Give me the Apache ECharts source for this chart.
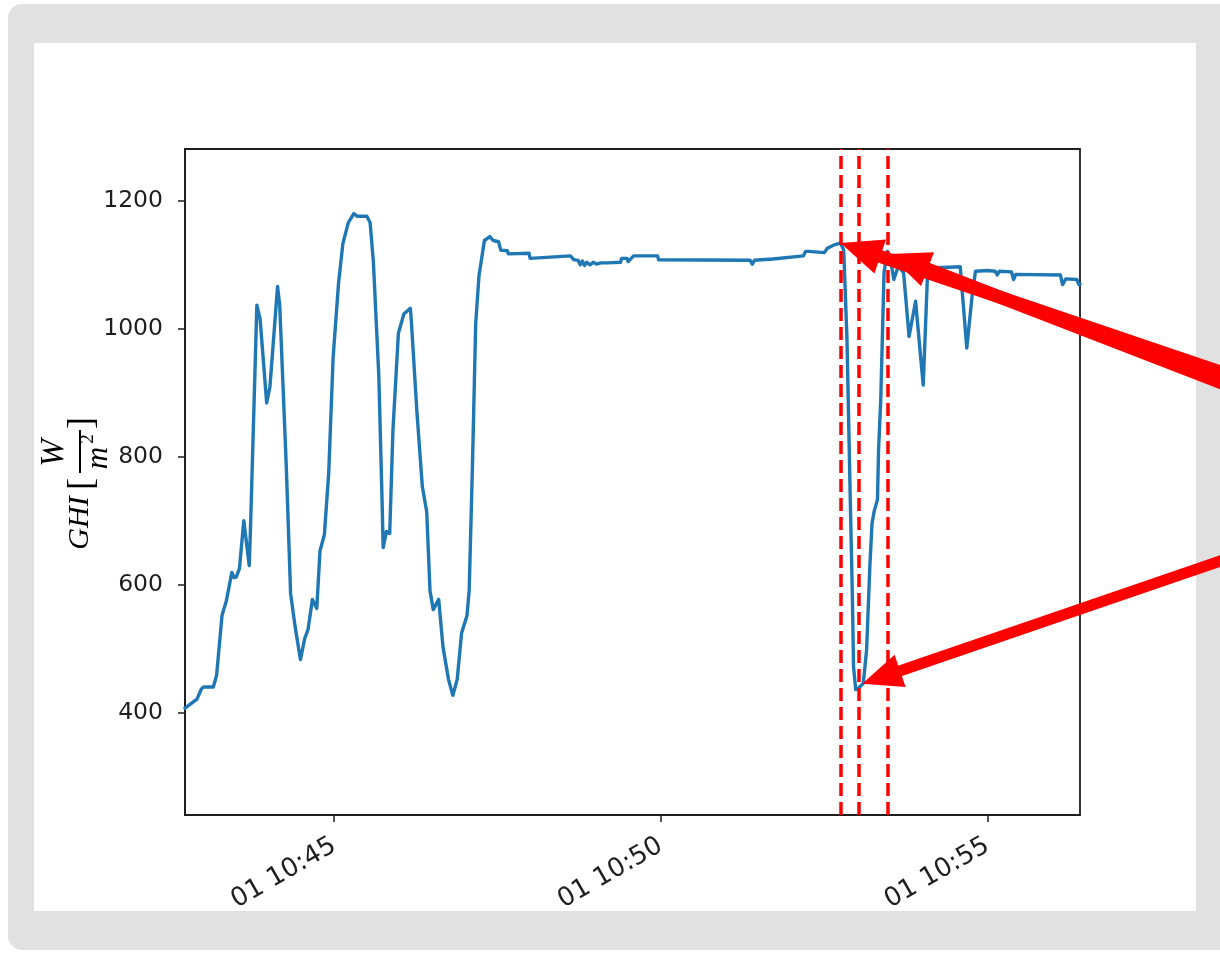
<!DOCTYPE html>
<html><head><meta charset="utf-8">
<script src="https://cdn.jsdelivr.net/npm/echarts@6.0.0/dist/echarts.min.js"></script>
<style>
html,body{margin:0;padding:0;background:#fff;width:1220px;height:957px;overflow:hidden;}
#frame{position:absolute;left:8px;top:4px;width:1240px;height:946px;background:#e0e1e0;border-radius:14px;}
#panel{position:absolute;left:34px;top:43px;width:1162px;height:868px;background:#fff;}
#chart{position:absolute;left:0;top:0;width:1220px;height:957px;}
</style></head><body>
<div id="frame"></div><div id="panel"></div><div id="chart"></div>
<script>
// ---- data ----
const times = [
 '10:42:43','10:42:54','10:42:58','10:43:00','10:43:09','10:43:12','10:43:17','10:43:21','10:43:26','10:43:28',
 '10:43:30','10:43:33','10:43:37','10:43:42','10:43:43','10:43:49','10:43:52','10:43:58','10:44:01','10:44:08',
 '10:44:10','10:44:16','10:44:20','10:44:24','10:44:29','10:44:33','10:44:36','10:44:40','10:44:44','10:44:47',
 '10:44:51','10:44:55','10:44:59','10:45:04','10:45:08','10:45:13','10:45:18','10:45:21','10:45:30','10:45:33',
 '10:45:36','10:45:41','10:45:44','10:45:45','10:45:48','10:45:51','10:45:54','10:45:59','10:46:04','10:46:10',
 '10:46:11','10:46:16','10:46:21','10:46:25','10:46:28','10:46:31','10:46:36','10:46:40','10:46:45','10:46:49',
 '10:46:53','10:46:57','10:47:02','10:47:04','10:47:07','10:47:10','10:47:13','10:47:18','10:47:23','10:47:26',
 '10:47:31','10:47:33','10:47:39','10:47:40','10:47:59','10:48:00','10:48:37','10:48:40','10:48:44','10:48:46',
 '10:48:48','10:48:50','10:48:52','10:48:55','10:48:58','10:49:01','10:49:05','10:49:11','10:49:23','10:49:24',
 '10:49:29','10:49:30','10:49:35','10:49:57','10:49:58','10:51:22','10:51:24','10:51:26','10:51:43','10:52:11',
 '10:52:13','10:52:16','10:52:17','10:52:30','10:52:33','10:52:39','10:52:45','10:52:48','10:52:51','10:52:54',
 '10:52:56','10:52:57','10:52:59','10:53:02','10:53:06','10:53:09','10:53:12','10:53:14','10:53:15','10:53:16',
 '10:53:19','10:53:20','10:53:22','10:53:25','10:53:28','10:53:31','10:53:34','10:53:38','10:53:40','10:53:43',
 '10:53:48','10:53:54','10:54:01','10:54:05','10:54:08','10:54:35','10:54:37','10:54:41','10:54:46','10:54:49',
 '10:55:00','10:55:07','10:55:09','10:55:11','10:55:22','10:55:24','10:55:26','10:56:07','10:56:09','10:56:12',
 '10:56:22','10:56:24','10:56:25'
];
const ghi = [
 407,421,437,440,440,458,552,575,619,611,
 612,625,700,630,680,1037,1015,884,909,1066,
 1037,786,586,536,483,516,530,577,563,653,
 678,775,954,1071,1133,1166,1180,1176,1176,1166,
 1105,927,731,658,683,680,842,993,1023,1032,
 1009,870,753,714,591,561,577,502,452,427,
 452,524,552,591,786,1009,1083,1138,1144,1138,
 1136,1123,1122,1117,1118,1110,1114,1108,1107,1100,
 1106,1099,1104,1100,1104,1101,1103,1103,1104,1110,
 1110,1105,1114,1114,1108,1107,1101,1107,1109,1114,
 1121,1121,1118,1119,1126,1131,1134,1123,983,733,
 577,472,436,439,446,498,629,696,697,715,
 733,811,889,1087,1121,1108,1077,1097,1095,1087,
 988,1043,912,1087,1095,1097,1055,970,1053,1090,
 1091,1090,1084,1090,1089,1077,1085,1084,1069,1078,
 1077,1069,1070
];
const xTickTimes = ['10:45','10:50','10:55'];
const yTicks = [400, 600, 800, 1000, 1200];
const xRange = ['10:42:43', '10:56:25'];
const yRange = [240, 1281];
const markerTimes = ['10:52:45', '10:53:02', '10:53:28'];
// annotation arrows: tip in data coords
const arrowTips = [['10:52:45', 1134], ['10:53:29', 1117], ['10:53:05', 445]];

// time of day in seconds
function ts(s){ const p = s.split(':').map(Number); return p[0]*3600 + p[1]*60 + (p[2]||0); }
function pad(n){ return (n<10?'0':'')+n; }

const chart = echarts.init(document.getElementById('chart'), null, {renderer:'canvas'});
const axisColor = '#1e1e1e';
const labelFont = '"DejaVu Sans", sans-serif';

chart.setOption({
  animation: false,
  backgroundColor: 'transparent',
  grid: { left: 185, top: 149, width: 895, height: 666, show: true, borderColor: axisColor, borderWidth: 1.8, backgroundColor: 'transparent', containLabel: false, outerBoundsMode: 'none' },
  xAxis: {
    type: 'value', min: ts(xRange[0]), max: ts(xRange[1]), scale: true,
    axisLine: { show: true, lineStyle: { color: axisColor, width: 1.8 } },
    axisTick: { show: true, length: 7, customValues: xTickTimes.map(ts), lineStyle: { color: axisColor, width: 1.5 } },
    axisLabel: { customValues: xTickTimes.map(ts), rotate: 30, margin: 29, fontSize: 26, fontFamily: labelFont, color: axisColor, hideOverlap: false,
      formatter: function(v){ const h = Math.floor(v/3600), m = Math.round((v - h*3600)/60); return '01 ' + pad(h) + ':' + pad(m); } },
    splitLine: { show: false }
  },
  yAxis: {
    type: 'value', min: yRange[0], max: yRange[1],
    axisLine: { show: true, lineStyle: { color: axisColor, width: 1.8 } },
    axisTick: { show: true, length: 7, customValues: yTicks, lineStyle: { color: axisColor, width: 1.5 } },
    axisLabel: { customValues: yTicks, margin: 22, fontSize: 23.5, fontFamily: labelFont, color: axisColor,
      formatter: function(v){ return String(v); } },
    splitLine: { show: false }
  },
  series: [{
    type: 'line',
    data: times.map((t, i) => [ts(t), ghi[i]]),
    showSymbol: false, symbol: 'none',
    lineStyle: { color: '#1f77b4', width: 3.4, join: 'round', cap: 'round' },
    itemStyle: { color: '#1f77b4' },
    clip: true, silent: true,
    markLine: {
      silent: true, symbol: ['none','none'], animation: false,
      label: { show: false },
      lineStyle: { color: '#ff0000', width: 3.5, type: [13, 6] },
      emphasis: { disabled: true },
      data: markerTimes.map(t => ({ xAxis: ts(t) }))
    }
  }]
});

// annotation arrows (tails reach beyond the panel to the right edge)
const arrowTails = [[1232, 376], [1232, 387], [1232, 557]];
const arrowWidths = [13, 13, 11];
const headLen = [42, 42, 40], headHalf = [18, 18, 17];
const elements = [];
arrowTips.forEach((tip, i) => {
  const p = chart.convertToPixel({gridIndex: 0}, [ts(tip[0]), tip[1]]);
  const tail = arrowTails[i];
  const dx = tail[0]-p[0], dy = tail[1]-p[1];
  const L = Math.sqrt(dx*dx+dy*dy), ux = dx/L, uy = dy/L, nx = -uy, ny = ux;
  const bx = p[0]+ux*headLen[i], by = p[1]+uy*headLen[i];
  elements.push({ type: 'line', z: 100, silent: true,
    shape: { x1: bx - ux*2, y1: by - uy*2, x2: tail[0], y2: tail[1] },
    style: { stroke: '#ff0000', lineWidth: arrowWidths[i], lineCap: 'butt' } });
  elements.push({ type: 'polygon', z: 101, silent: true,
    shape: { points: [[p[0], p[1]], [bx + nx*headHalf[i], by + ny*headHalf[i]], [bx - nx*headHalf[i], by - ny*headHalf[i]]] },
    style: { fill: '#ff0000' } });
});

// y axis title: GHI [W / m^2], rotated
const serif = '"Liberation Serif", "DejaVu Serif", serif';
function txt(s, x, y, size, italic){
  return { type: 'text', x: x, y: y, silent: true,
    style: { text: s, font: (italic?'italic ':'') + size + 'px ' + serif, fill: '#000',
      align: 'center', verticalAlign: 'middle', textAlign: 'center', textVerticalAlign: 'middle' } };
}
elements.push({
  type: 'group', x: 92, y: 547, rotation: Math.PI/2, silent: true,
  children: [
    txt('GHI', 24, -12, 30, true),
    txt('[', 63, -9, 36, false),
    txt('W', 94, -38, 33, true),
    { type: 'line', shape: { x1: 74, y1: -12, x2: 117, y2: -12 }, style: { stroke: '#000', lineWidth: 2 } },
    txt('m', 89, 7, 31, true),
    txt('2', 108, -4, 19, false),
    txt(']', 124, -9, 36, false)
  ]
});
chart.setOption({ graphic: { elements: elements } });
</script>
</body></html>
